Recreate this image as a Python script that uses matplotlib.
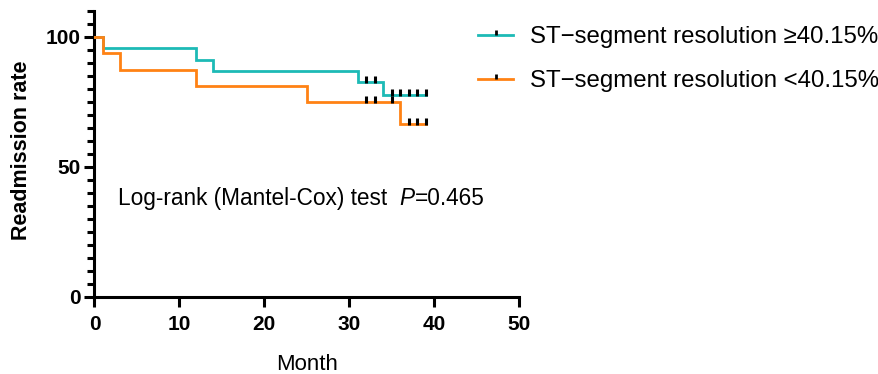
import numpy as np
import matplotlib
matplotlib.use("Agg")
import matplotlib.pyplot as plt
from matplotlib.lines import Line2D

plt.rcParams['font.family'] = ['Liberation Sans', 'DejaVu Sans']

# ---- data ----
group_labels = ["ST\u2212segment resolution \u226540.15%", "ST\u2212segment resolution <40.15%"]
colors = ["#1DBAB6", "#FF8214"]

# step-curve event times (months) and survival (%) after each time
teal_times = [0, 1, 12, 14, 31, 34]
teal_surv = [100, 95.7, 91.3, 87.0, 82.6, 77.8]
teal_end = 39
teal_censor = [32, 33, 35, 36, 37, 38, 39]

orange_times = [0, 1, 3, 12, 25, 36]
orange_surv = [100, 93.8, 87.5, 81.3, 75.0, 66.7]
orange_end = 39
orange_censor = [32, 33, 35, 37, 38, 39]

x_ticks = [0, 10, 20, 30, 40, 50]
y_ticks = [0, 50, 100]
annotation = "Log-rank (Mantel-Cox) test  "
p_text = "P"
p_value = "=0.465"

# ---- figure ----
fig = plt.figure(figsize=(8.79, 3.74), dpi=100)
ax_w = (519 - 94.5)
ax_h = (297 - 11)
ax = fig.add_axes([94.5/879, 1-297/374, ax_w/879, ax_h/374])

cens_marker = [(0, -0.1), (0, 1)]

def draw(times, surv, end, censor, color):
    t = list(times) + [end]
    s = list(surv) + [surv[-1]]
    ax.step(t, s, where='post', color=color, lw=2.0, solid_joinstyle='miter', zorder=3)
    cy = [surv[np.searchsorted(times, c, side='right') - 1] for c in censor]
    ax.plot(censor, cy, ls='none', marker=cens_marker, ms=8, mew=2.2,
            color='black', zorder=4)

draw(teal_times, teal_surv, teal_end, teal_censor, colors[0])
draw(orange_times, orange_surv, orange_end, orange_censor, colors[1])

ax.set_xlim(0, 50)
ax.set_ylim(0, 110)
ax.set_xticks(x_ticks)
ax.set_yticks(y_ticks)
ax.set_yticks(np.arange(0, 111, 5), minor=True)

for sp in ['top', 'right']:
    ax.spines[sp].set_visible(False)
for sp in ['left', 'bottom']:
    ax.spines[sp].set_linewidth(2.2)
    ax.spines[sp].set_capstyle('projecting')

ax.tick_params(which='major', length=7, width=2.2, direction='out', pad=3)
ax.tick_params(axis='x', which='major', pad=6)
ax.tick_params(which='minor', length=5, width=2.2, direction='out')
ax.tick_params(axis='x', which='minor', bottom=False)
for lab in ax.get_xticklabels() + ax.get_yticklabels():
    lab.set_fontsize(15)
    lab.set_fontweight('bold')

ax.set_xlabel("Month", fontsize=16, labelpad=14)
ax.set_ylabel("Readmission rate", fontsize=15.5, fontweight='bold')
ax.yaxis.set_label_coords(-(94.5 - 32) / ax_w, (297 - 150) / ax_h)

y_txt = 35.4
t1 = ax.text(2.75, y_txt, annotation, fontsize=16.3, va='baseline')
fig.canvas.draw()
bb = t1.get_window_extent()
xp = ax.transData.inverted().transform((bb.x1, 0))[0]
tp = ax.text(xp, y_txt, p_text, fontsize=16.3, style='italic', va='baseline')
fig.canvas.draw()
bb2 = tp.get_window_extent()
xp2 = ax.transData.inverted().transform((bb2.x1, 0))[0]
ax.text(xp2, y_txt, p_value, fontsize=16.3, va='baseline')

handles = [Line2D([0], [0], color=c, lw=2.0, marker=cens_marker, ms=7, mew=2.0,
                  markeredgecolor='black') for c in colors]
fig.legend(handles, group_labels, loc='upper left', bbox_to_anchor=(478/879, 1-26/374),
           frameon=False, fontsize=17.3, handlelength=1.46, handletextpad=0.7,
           labelspacing=0.93, numpoints=1, borderpad=0, borderaxespad=0)

fig.savefig("out.png", dpi=100)
